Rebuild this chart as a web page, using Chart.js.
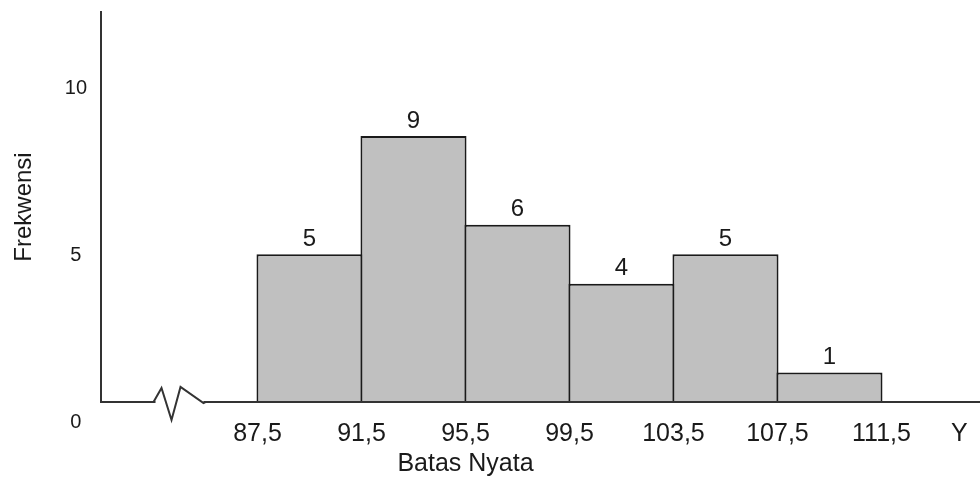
<!DOCTYPE html>
<html>
<head>
<meta charset="utf-8">
<script src="https://cdn.jsdelivr.net/npm/chart.js@4.4.1/dist/chart.umd.min.js"></script>
<style>
  html, body { margin: 0; padding: 0; background: #fff; }
  #wrap { width: 980px; height: 484px; }
</style>
</head>
<body>
<div id="wrap"><canvas id="hist"></canvas></div>
<script>
// batas nyata (class boundaries) and frequencies
const batas = [87.5, 91.5, 95.5, 99.5, 103.5, 107.5, 111.5];
const frekwensi = [5, 9, 6, 4, 5, 1];
// x tick labels, the axis title sits under 95,5
const xTickLabels = ['87,5', '91,5', ['95,5', 'Batas Nyata'], '99,5', '103,5', '107,5', '111,5'];
const yTicks = [0, 5, 10];
const xName = 'Y';
const xNameAt = 114.5;

const font = "'Liberation Sans', Arial, sans-serif";
const ink = '#1a1a1a';
const tickSize = 25;
const tickPad = 17;

// bars sit in the middle of each class
const bars = frekwensi.map((f, i) => ({ x: (batas[i] + batas[i + 1]) / 2, y: f }));

// value above every bar, plus the Y at the end of the x axis
const barLabels = {
    id: 'barLabels',
    afterDatasetsDraw(chart) {
        const ctx = chart.ctx;
        const meta = chart.getDatasetMeta(0);
        ctx.save();
        ctx.fillStyle = ink;
        ctx.textAlign = 'center';
        ctx.textBaseline = 'middle';
        ctx.font = '24px ' + font;
        meta.data.forEach((bar, i) => {
            ctx.fillText(String(frekwensi[i]), bar.x, bar.y - 15);
        });
        ctx.font = tickSize + 'px ' + font;
        ctx.fillText(xName, chart.scales.x.getPixelForValue(xNameAt),
            chart.chartArea.bottom + tickPad + tickSize * 0.6);
        ctx.restore();
    }
};

// zigzag break on the x axis, between the y axis and the first class
const axisBreak = {
    id: 'axisBreak',
    afterDraw(chart) {
        const ctx = chart.ctx;
        const cx = chart.scales.x.getPixelForValue(84.5);
        const y = chart.chartArea.bottom;
        ctx.save();
        ctx.fillStyle = '#fff';
        ctx.fillRect(cx - 24, y - 4, 48, 8);
        ctx.strokeStyle = '#333';
        ctx.lineWidth = 2;
        ctx.beginPath();
        ctx.moveTo(cx - 26, y);
        ctx.lineTo(cx - 18, y - 14);
        ctx.lineTo(cx - 8, y + 18);
        ctx.lineTo(cx + 1, y - 15);
        ctx.lineTo(cx + 24, y + 1);
        ctx.lineTo(cx + 26, y);
        ctx.stroke();
        ctx.restore();
    }
};

const noPad = (scale) => {
    scale.paddingTop = 0;
    scale.paddingBottom = 0;
    scale.paddingLeft = 0;
    scale.paddingRight = 0;
};

new Chart(document.getElementById('hist').getContext('2d'), {
    type: 'bar',
    data: {
        datasets: [{
            data: bars,
            backgroundColor: '#c0c0c0',
            borderColor: ink,
            borderWidth: 2,
            barPercentage: 1.02,
            categoryPercentage: 1,
            inflateAmount: 0
        }]
    },
    options: {
        responsive: true,
        maintainAspectRatio: false,
        animation: false,
        layout: { padding: { top: 12, right: 0, bottom: 0, left: 0 } },
        plugins: { legend: { display: false }, tooltip: { enabled: false } },
        scales: {
            x: {
                type: 'linear',
                offset: false,
                min: 81.48,
                max: 115.29,
                grid: { display: false, drawTicks: false },
                border: { display: true, color: '#333', width: 2, z: 1 },
                afterBuildTicks: (scale) => { scale.ticks = batas.map(v => ({ value: v })); },
                afterFit: (scale) => { scale.height = 82; noPad(scale); },
                ticks: {
                    padding: tickPad,
                    color: ink,
                    font: { family: font, size: tickSize },
                    maxRotation: 0,
                    autoSkip: false,
                    callback: (v, i) => xTickLabels[i]
                }
            },
            y: {
                min: 0,
                max: 13.2,
                weight: 0,
                grid: { display: false, drawTicks: false },
                border: { display: true, color: '#333', width: 2, z: 1 },
                ticks: { display: false },
                afterFit: (scale) => { scale.width = 0; noPad(scale); }
            },
            // tick labels of the hand drawn axis do not sit on the bar scale
            yLab: {
                position: 'left',
                min: 0.6,
                max: 12.28,
                weight: 1,
                grid: { display: false, drawTicks: false },
                border: { display: false },
                afterBuildTicks: (scale) => { scale.ticks = yTicks.map(v => ({ value: v })); },
                afterFit: (scale) => { scale.width = 101; noPad(scale); },
                ticks: {
                    crossAlign: 'center',
                    padding: 14,
                    color: ink,
                    font: { family: font, size: 20 },
                    autoSkip: false
                },
                title: {
                    display: true,
                    text: 'Frekwensi',
                    color: ink,
                    font: { family: font, size: 24 },
                    padding: { top: 10, bottom: 0 }
                }
            }
        }
    },
    plugins: [barLabels, axisBreak]
});
</script>
</body>
</html>
